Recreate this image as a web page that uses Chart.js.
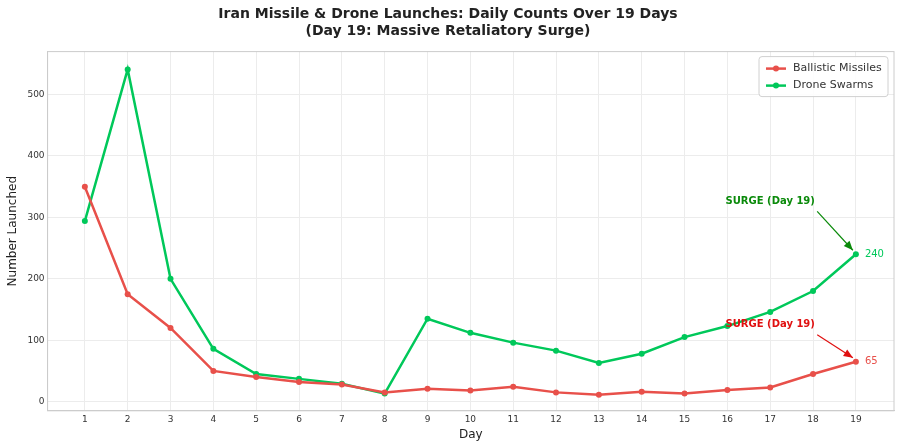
<!DOCTYPE html>
<html><head><meta charset="utf-8">
<script src="https://cdn.jsdelivr.net/npm/chart.js@4"></script>
<style>body{margin:0;background:#fff}#wrap{width:900px;height:448px}</style>
</head><body><div id="wrap"><canvas id="c"></canvas></div>
<script>
const days = [1,2,3,4,5,6,7,8,9,10,11,12,13,14,15,16,17,18,19];
const ballistic = [350,175,120,50,40,32,28,15,21,18,24,15,11,16,13,19,23,45,65];
const drones = [294,541,200,86,45,37,29,13,135,112,96,83,63,78,105,123,146,180,240];
const yTicks = [0,100,200,300,400,500];
const RED = '#e8504a', GREEN = '#00c85a';

// Anmerkungen, Legende und Endwerte zeichnen
const extras = {
  id: 'extras',
  afterDatasetsDraw(chart) {
    const {ctx, scales: {x, y}, chartArea: a} = chart;
    ctx.save();
    // Rahmen
    ctx.strokeStyle = '#ccc'; ctx.lineWidth = 1;
    ctx.strokeRect(a.left, a.top, a.right - a.left, a.bottom - a.top);
    // Endwerte
    ctx.font = '10px "DejaVu Sans"';
    ctx.textBaseline = 'middle';
    ctx.fillStyle = GREEN; ctx.fillText('240', x.getPixelForValue(19) + 9, y.getPixelForValue(240));
    ctx.fillStyle = RED; ctx.fillText('65', x.getPixelForValue(19) + 9, y.getPixelForValue(65));
    // Pfeile
    function note(color, tx, ty, toY) {
      const px = x.getPixelForValue(tx), py = y.getPixelForValue(ty);
      ctx.font = 'bold 10px "DejaVu Sans"';
      ctx.fillStyle = color; ctx.textAlign = 'center';
      ctx.fillText('SURGE (Day 19)', px, py);
      const x0 = px + 47, y0 = py + 10;
      const x1 = x.getPixelForValue(19) - 3, y1 = y.getPixelForValue(toY) - 4;
      ctx.strokeStyle = color; ctx.lineWidth = 1.2;
      ctx.beginPath(); ctx.moveTo(x0, y0); ctx.lineTo(x1, y1); ctx.stroke();
      const ang = Math.atan2(y1 - y0, x1 - x0);
      ctx.beginPath(); ctx.moveTo(x1, y1);
      ctx.lineTo(x1 - 10 * Math.cos(ang - 0.4), y1 - 10 * Math.sin(ang - 0.4));
      ctx.lineTo(x1 - 10 * Math.cos(ang + 0.4), y1 - 10 * Math.sin(ang + 0.4));
      ctx.closePath(); ctx.fill();
    }
    note('#0a8a0a', 17.0, 326, 240);
    note('#e01010', 17.0, 125, 65);
    // Legende
    const lx = a.right - 135, ly = a.top + 5;
    ctx.fillStyle = 'rgba(255,255,255,0.9)'; ctx.strokeStyle = '#d0d0d0'; ctx.lineWidth = 1;
    ctx.beginPath(); ctx.roundRect(lx, ly, 129, 40, 3); ctx.fill(); ctx.stroke();
    ctx.textAlign = 'left'; ctx.font = '11px "DejaVu Sans"';
    [[RED, 'Ballistic Missiles'], [GREEN, 'Drone Swarms']].forEach(([c, t], i) => {
      const yy = ly + 12 + i * 17;
      ctx.strokeStyle = c; ctx.lineWidth = 2.5;
      ctx.beginPath(); ctx.moveTo(lx + 7, yy); ctx.lineTo(lx + 27, yy); ctx.stroke();
      ctx.fillStyle = c; ctx.beginPath(); ctx.arc(lx + 17, yy, 3, 0, Math.PI * 2); ctx.fill();
      ctx.fillStyle = '#333'; ctx.fillText(t, lx + 34, yy);
    });
    ctx.restore();
  }
};

new Chart(document.getElementById('c'), {
  type: 'line',
  data: {
    datasets: [
      { label: 'Ballistic Missiles', data: days.map((d, i) => ({x: d, y: ballistic[i]})),
        borderColor: RED, backgroundColor: RED, borderWidth: 2.5, pointRadius: 3, pointBorderWidth: 0 },
      { label: 'Drone Swarms', data: days.map((d, i) => ({x: d, y: drones[i]})),
        borderColor: GREEN, backgroundColor: GREEN, borderWidth: 2.5, pointRadius: 3, pointBorderWidth: 0 }
    ]
  },
  options: {
    responsive: true, maintainAspectRatio: false, animation: false,
    layout: { padding: { left: 2, right: 6, bottom: 6 } },
    plugins: {
      legend: { display: false }, tooltip: { enabled: false },
      title: { display: true, text: ['Iran Missile & Drone Launches: Daily Counts Over 19 Days', '(Day 19: Massive Retaliatory Surge)'],
        color: '#222', font: { family: 'DejaVu Sans', size: 14, weight: 'bold' }, padding: { top: 6, bottom: 12 } }
    },
    scales: {
      x: { type: 'linear', min: 0.13, max: 19.89,
        afterBuildTicks: s => { s.ticks = days.map(v => ({value: v})); },
        ticks: { color: '#333', font: { family: 'DejaVu Sans', size: 9 }, autoSkip: false },
        grid: { color: '#ececec', drawTicks: false }, border: { color: '#ccc' },
        title: { display: true, text: 'Day', color: '#222', font: { family: 'DejaVu Sans', size: 12 }, padding: 0 } },
      y: { min: -15, max: 570,
        afterBuildTicks: s => { s.ticks = yTicks.map(v => ({value: v})); },
        ticks: { color: '#333', font: { family: 'DejaVu Sans', size: 9 } },
        grid: { color: '#ececec', drawTicks: false }, border: { color: '#ccc' },
        title: { display: true, text: 'Number Launched', color: '#222', font: { family: 'DejaVu Sans', size: 12 } } }
    }
  },
  plugins: [extras]
});
</script></body></html>
